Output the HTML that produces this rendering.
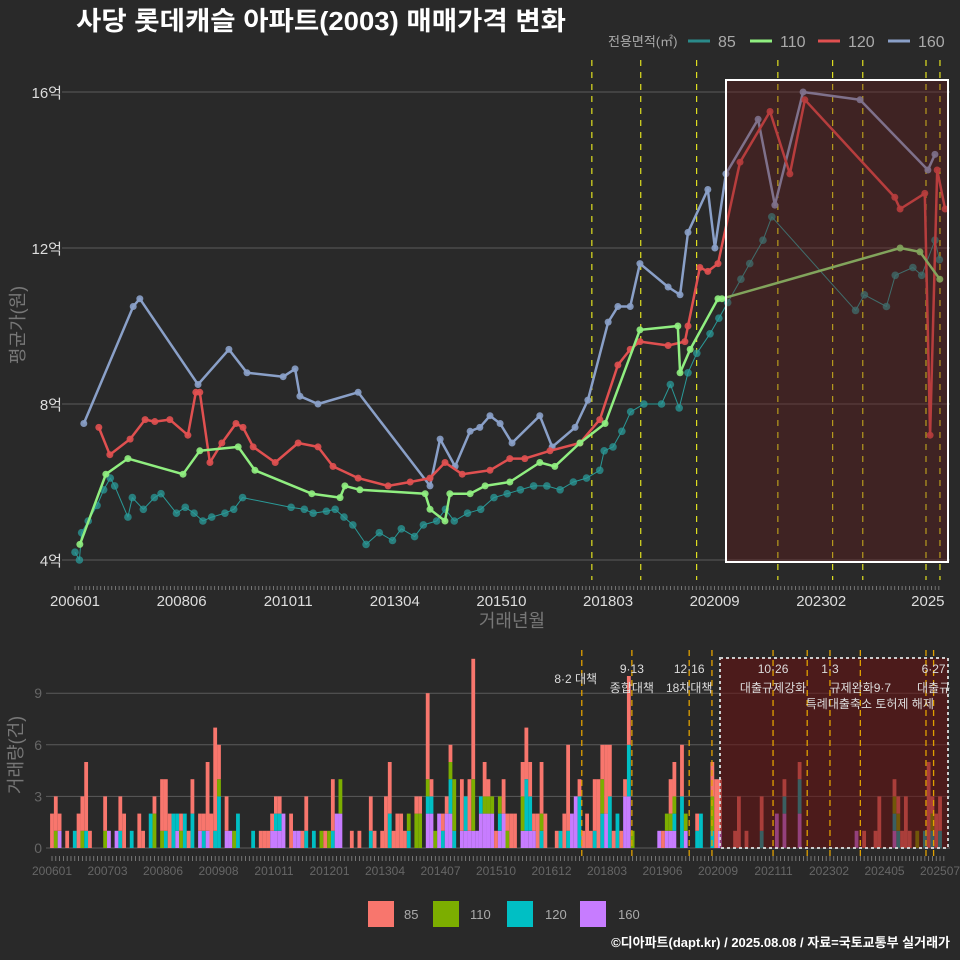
<!DOCTYPE html>
<html><head><meta charset="utf-8">
<style>
html,body{margin:0;padding:0;background:#292929;}
svg{display:block;font-family:"Liberation Sans","Noto Sans CJK KR",sans-serif;}
</style></head>
<body>
<svg id="chart" width="960" height="960" viewBox="0 0 960 960">
<rect x="0" y="0" width="960" height="960" fill="#292929"/>
<text x="76" y="30" fill="#ffffff" font-size="26" font-weight="bold" textLength="490" lengthAdjust="spacingAndGlyphs">사당 롯데캐슬 아파트(2003) 매매가격 변화</text>
<g>
<text x="608" y="46" fill="#aaaaaa" font-size="13">전용면적(㎡)</text>
<line x1="688" y1="41" x2="710" y2="41" stroke="#2a8a8a" stroke-width="3"/>
<text x="718" y="47" fill="#aaaaaa" font-size="16">85</text>
<line x1="750" y1="41" x2="772" y2="41" stroke="#90ee80" stroke-width="3"/>
<text x="780" y="47" fill="#aaaaaa" font-size="16">110</text>
<line x1="818" y1="41" x2="840" y2="41" stroke="#e05050" stroke-width="3"/>
<text x="848" y="47" fill="#aaaaaa" font-size="16">120</text>
<line x1="888" y1="41" x2="910" y2="41" stroke="#8aa0c8" stroke-width="3"/>
<text x="918" y="47" fill="#aaaaaa" font-size="16">160</text>
</g>
<text transform="translate(24,325) rotate(-90)" text-anchor="middle" fill="#777777" font-size="18">평균가(원)</text>
<text x="512" y="627" text-anchor="middle" fill="#777777" font-size="18">거래년월</text>
<text transform="translate(22,755) rotate(-90)" text-anchor="middle" fill="#777777" font-size="18">거래량(건)</text>
<g>
<rect x="368" y="901" width="26" height="26" fill="#f8766d"/>
<text x="404" y="919" fill="#aaaaaa" font-size="13">85</text>
<rect x="433" y="901" width="26" height="26" fill="#7cae00"/>
<text x="470" y="919" fill="#aaaaaa" font-size="13">110</text>
<rect x="507" y="901" width="26" height="26" fill="#00bfc4"/>
<text x="545" y="919" fill="#aaaaaa" font-size="13">120</text>
<rect x="580" y="901" width="26" height="26" fill="#c77cff"/>
<text x="618" y="919" fill="#aaaaaa" font-size="13">160</text>
</g>
<text x="950" y="947" text-anchor="end" fill="#ffffff" font-size="13" font-weight="bold">©디아파트(dapt.kr) / 2025.08.08 / 자료=국토교통부 실거래가</text>
<g id="top"></g>
<g id="bot"></g>
</svg>
<script>
// ---- price chart data (t = years since 2006-01, price in 억) ----
const t160=[0.20,1.32,1.47,2.79,3.49,3.90,4.72,4.99,5.10,5.51,6.42,8.05,8.28,8.62,8.96,9.18,9.41,9.64,9.91,10.54,10.82,11.34,11.63,12.09,12.31,12.59,12.81,13.45,13.72,13.90,14.35,14.51,14.76,15.49,15.87,16.51,17.80,19.34,19.50];
const p160=[7.5,10.5,10.7,8.5,9.4,8.8,8.7,8.9,8.2,8.0,8.3,5.9,7.1,6.4,7.3,7.4,7.7,7.5,7.0,7.7,6.9,7.4,8.1,10.1,10.5,10.5,11.6,11.0,10.8,12.4,13.5,12.0,13.9,15.3,13.1,16.0,15.8,14.0,14.4];
const t120=[0.54,0.79,1.25,1.59,1.81,2.15,2.56,2.74,2.83,3.06,3.33,3.65,3.81,4.04,4.54,5.06,5.51,5.85,6.42,7.10,7.60,8.05,8.39,8.78,9.41,9.86,10.20,10.77,11.45,11.90,12.31,12.59,12.81,13.45,13.83,13.90,14.17,14.35,14.58,15.08,15.76,16.21,16.55,18.59,18.71,19.27,19.39,19.55,19.73];
const p120=[7.4,6.7,7.1,7.6,7.55,7.6,7.2,8.3,8.3,6.5,7.0,7.5,7.4,6.9,6.5,7.0,6.9,6.4,6.1,5.9,6.0,6.1,6.5,6.2,6.3,6.6,6.6,6.8,7.0,7.6,9.0,9.4,9.6,9.5,9.6,10.0,11.5,11.4,11.6,14.2,15.5,13.9,15.8,13.3,13.0,13.4,7.2,14.0,13.0];
const t110=[0.11,0.70,1.20,2.45,2.83,3.70,4.08,5.37,6.01,6.12,6.46,7.94,8.05,8.39,8.50,8.96,9.30,9.86,10.54,10.88,11.45,12.02,12.81,13.67,13.72,13.95,14.58,14.67,18.71,19.16,19.61];
const p110=[4.4,6.2,6.6,6.2,6.8,6.9,6.3,5.7,5.6,5.9,5.8,5.7,5.3,5.0,5.7,5.7,5.9,6.0,6.5,6.4,7.0,7.5,9.9,10.0,8.8,9.4,10.7,10.7,12.0,11.9,11.2];
const t85=[0.0,0.1,0.15,0.3,0.5,0.65,0.8,0.9,1.2,1.3,1.55,1.8,1.95,2.3,2.5,2.7,2.9,3.1,3.4,3.6,3.8,4.9,5.2,5.4,5.7,5.9,6.1,6.3,6.6,6.9,7.2,7.4,7.7,7.9,8.2,8.4,8.6,8.9,9.2,9.5,9.8,10.1,10.4,10.7,11.0,11.3,11.6,11.9,12.0,12.2,12.4,12.6,12.9,13.3,13.5,13.7,13.9,14.1,14.4,14.6,14.8,15.1,15.3,15.6,15.8,17.7,17.9,18.4,18.6,19.0,19.2,19.5,19.6];
const p85=[4.2,4.0,4.7,5.0,5.4,5.8,6.1,5.9,5.1,5.6,5.3,5.6,5.7,5.2,5.35,5.2,5.0,5.1,5.2,5.3,5.6,5.35,5.3,5.2,5.25,5.3,5.1,4.9,4.4,4.7,4.5,4.8,4.6,4.9,5.0,5.3,5.0,5.2,5.3,5.6,5.7,5.8,5.9,5.9,5.8,6.0,6.1,6.3,6.8,6.9,7.3,7.8,8.0,8.0,8.5,7.9,8.8,9.3,9.8,10.2,10.6,11.2,11.6,12.2,12.8,10.4,10.8,10.5,11.3,11.5,11.3,12.2,11.7];
const yTicks=[4,8,12,16];
const xTickLabels=["200601","200806","201011","201304","201510","201803","202009","202302","2025"];
const topEventMonths=[140.6,153.9,169.1,191.2,206.1,214.3,231.5,235.3];
// ---- volume data (sparse: month index since 2006-01 and counts per size) ----
const volMonths=[0,1,2,4,6,7,8,9,10,14,15,17,18,19,21,23,24,26,27,29,30,31,32,33,34,35,36,37,39,40,41,42,43,44,46,47,48,49,53,55,56,57,58,59,60,61,63,64,65,66,67,69,71,72,73,74,75,76,79,81,84,85,87,88,89,90,91,92,93,94,96,97,99,100,101,102,103,104,105,106,108,109,110,111,112,113,114,115,116,117,118,119,120,121,122,124,125,126,127,128,129,130,133,134,135,136,137,138,139,140,141,142,143,144,145,146,147,148,149,150,151,152,153,160,161,162,163,164,166,167,170,171,173,174,175,176,180,181,183,185,186,187,189,191,193,197,212,214,217,218,222,223,224,225,226,228,230,231,232,233,234];
const vol85 =[2,2,1,1,0,2,2,4,1,2,0,0,2,2,0,2,1,0,1,3,3,2,0,0,1,0,1,2,1,1,4,2,6,2,2,0,0,0,0,1,1,1,1,1,1,0,2,0,0,1,2,0,0,1,0,3,0,0,1,1,2,1,1,3,3,1,2,2,1,0,1,1,5,1,0,0,1,1,1,0,3,0,3,7,0,0,2,1,0,1,0,2,1,2,2,2,3,2,1,2,3,2,1,0,2,5,0,0,1,1,2,1,3,4,2,4,3,1,0,1,1,4,0,0,1,0,2,2,3,0,1,0,0,2,4,3,1,3,1,0,0,2,0,0,1,1,0,1,1,3,1,1,1,3,1,0,0,5,1,2,2];
const vol110=[0,1,0,0,0,0,1,0,0,1,0,0,0,0,0,0,0,0,2,1,0,0,0,0,1,0,0,0,0,0,0,0,0,1,0,0,1,0,0,0,0,0,0,0,0,0,0,0,0,0,0,0,1,0,1,0,0,2,0,0,0,0,0,0,0,0,0,0,0,1,2,2,1,0,1,0,0,0,1,3,0,0,0,3,0,0,1,1,1,0,1,0,1,0,0,2,0,0,0,0,1,0,0,0,0,0,0,0,0,0,0,0,0,0,2,0,0,0,0,0,0,0,1,0,0,1,1,1,0,1,0,0,0,2,0,0,0,0,0,0,0,0,0,0,0,0,0,0,0,0,1,1,0,0,0,1,0,0,1,0,0];
const vol120=[0,0,0,0,1,0,0,1,0,0,0,0,1,0,1,0,0,2,0,0,1,0,2,1,0,2,0,2,0,1,0,0,1,3,0,0,0,2,1,0,0,0,0,1,1,0,0,0,0,0,1,1,0,0,0,1,0,0,0,0,1,0,0,0,2,0,0,0,0,1,0,0,1,1,0,0,1,0,2,1,0,2,0,0,0,1,0,0,0,0,1,0,0,0,0,0,3,2,0,0,1,0,0,1,0,1,0,0,3,0,0,0,1,0,2,0,3,0,2,0,0,3,0,0,0,0,0,1,3,0,1,2,0,1,0,0,0,0,0,0,0,1,0,0,1,2,0,0,0,0,1,1,0,0,0,0,1,0,1,0,1];
const vol160=[0,0,1,0,0,0,0,0,0,0,1,1,0,0,0,0,0,0,0,0,0,0,0,1,0,0,0,0,1,0,1,0,0,0,1,1,0,0,0,0,0,0,1,1,1,2,0,1,1,0,0,0,0,0,0,0,2,2,0,0,0,0,0,0,0,0,0,0,0,0,0,0,2,2,0,2,0,2,2,0,1,1,1,1,1,2,2,2,2,0,1,2,0,0,0,1,1,1,1,0,0,0,0,0,0,0,2,3,0,0,0,0,0,0,0,2,0,0,0,0,3,3,0,1,0,1,1,1,0,1,0,0,0,0,0,1,0,0,0,0,0,0,0,2,2,2,1,0,0,0,1,0,0,0,0,0,0,0,0,0,0,0,0,1,3,0,0];
const vTicks=[0,3,6,9];
const vTickLabels=["200601","200703","200806","200908","201011","201201","201304","201407","201510","201612","201803","201906","202009","202111","202302","202405","202507"];
const evMonths=[139.6,152.8,167.9,173.9,190,199,205,213,230.3,232.3];
const evLabelMonths=[138,152.8,167.9,152.8,167.9,190,190,205,213,215.5,232.3,232.3];
const evLabelTexts=["8·2 대책","9·13","12·16","종합대책","18차대책","10·26","대출규제강화","1·3","규제완화9·7","특례대출축소 토허제 해제","6·27","대출규"];
const evLabelRows=[1,0,0,1,1,0,1,0,1,2,0,1];

const NS="http://www.w3.org/2000/svg";
function mk(parent,tag,attrs){const e=document.createElementNS(NS,tag);for(const k in attrs)e.setAttribute(k,attrs[k]);parent.appendChild(e);return e;}
const xT=t=>75+t*44.1;
const xTm=m=>75+m*3.676;
const yT=p=>560-(p-4)*39;
const topG=document.getElementById('top');
yTicks.forEach(v=>{
  const g=mk(topG,'line',{x1:62,x2:950,y1:yT(v),y2:yT(v),stroke:'#5a5a5a','stroke-width':1});
  
  
  const tx=mk(topG,'text',{x:62,y:yT(v)+6,'text-anchor':'end',fill:'#dddddd','font-size':15});
  tx.textContent=v+'억';
  
  
});
xTickLabels.forEach((l,i)=>{
  const tx=mk(topG,'text',{x:xTm(i*29),y:606,'text-anchor':'middle',fill:'#dddddd','font-size':15});
  tx.textContent=l;
  
  
});
for(let m=0;m<236;m++){const l=mk(topG,'line',{x1:xTm(m),x2:xTm(m),y1:586,y2:590,stroke:'#888','stroke-width':0.8});
  
  }
topEventMonths.forEach(m=>{
  const l=mk(topG,'line',{x1:xTm(m),x2:xTm(m),y1:60,y2:580,stroke:'#e0e020','stroke-width':1.2,'stroke-dasharray':'6,6'});
  
  
});
function series(ts,ps,color,name,lw,rad,op){
  const d=ts.map((t,i)=>(i?'L':'M')+xT(t).toFixed(1)+','+yT(ps[i]).toFixed(1)).join('');
  const pth=mk(topG,'path',{d:d,fill:'none',stroke:color,'stroke-width':lw,'stroke-linejoin':'round'});
  
  
  ts.forEach((t,i)=>{const c=mk(topG,'circle',{cx:xT(t),cy:yT(ps[i]),r:rad,fill:color,'fill-opacity':op});
    
    });
}
series(t85,p85,'#2a9a98','85',1,3.8,0.75);
series(t160,p160,'#8aa0c8','160',2.5,3.5,0.9);
series(t120,p120,'#e05050','120',2.5,3.5,0.9);
series(t110,p110,'#90ee80','110',2.5,3.5,0.9);
const hl=mk(topG,'rect',{x:726,y:80,width:222,height:482,fill:'#6a1a1a','fill-opacity':0.35,stroke:'#ffffff','stroke-width':2});



const xB=m=>52+m*3.795;
const yB=v=>848-v*17.2;
const botG=document.getElementById('bot');
vTicks.forEach(v=>{
  const g=mk(botG,'line',{x1:46,x2:950,y1:yB(v),y2:yB(v),stroke:'#5a5a5a','stroke-width':1});
  
  
  const tx=mk(botG,'text',{x:42,y:yB(v)+5,'text-anchor':'end',fill:'#666666','font-size':14});
  tx.textContent=v;
  
  
});
vTickLabels.forEach((l,i)=>{
  const tx=mk(botG,'text',{x:xB(i*234/16),y:875,'text-anchor':'middle',fill:'#666666','font-size':12});
  tx.textContent=l;
  
  
});
for(let m=0;m<236;m++){const l=mk(botG,'line',{x1:xB(m),x2:xB(m),y1:856,y2:861,stroke:'#888','stroke-width':0.8});
  
  }
const cols=['#c77cff','#00bfc4','#7cae00','#f8766d'];
const stacks=[vol160,vol120,vol110,vol85];
volMonths.forEach((m,j)=>{
  let acc=0;
  stacks.forEach((arr,k)=>{const v=arr[j]||0;if(!v)return;
    const r=mk(botG,'rect',{x:xB(m)-1.9,y:yB(acc+v),width:3.8,height:v*17.2,fill:cols[k]});
    
    
    acc+=v;});
});
const hb=mk(botG,'rect',{x:720,y:658,width:228,height:190,fill:'#6a1010','fill-opacity':0.55,stroke:'#cccccc','stroke-width':2,'stroke-dasharray':'3,3'});


evMonths.forEach(m=>{
  const x=xB(m);
  const l=mk(botG,'line',{x1:x,x2:x,y1:650,y2:856,stroke:'#e0a000','stroke-width':1.3,'stroke-dasharray':'6,4'});
  
  
});
const rowY=[673,692,708];
evLabelMonths.forEach((m,i)=>{
  const t=mk(botG,'text',{x:xB(m),y:evLabelRows[i]===1&&i===0?683:rowY[evLabelRows[i]],'text-anchor':'middle',fill:'#dddddd','font-size':12});
  t.textContent=evLabelTexts[i];
  
  
});
</script>
</body></html>
